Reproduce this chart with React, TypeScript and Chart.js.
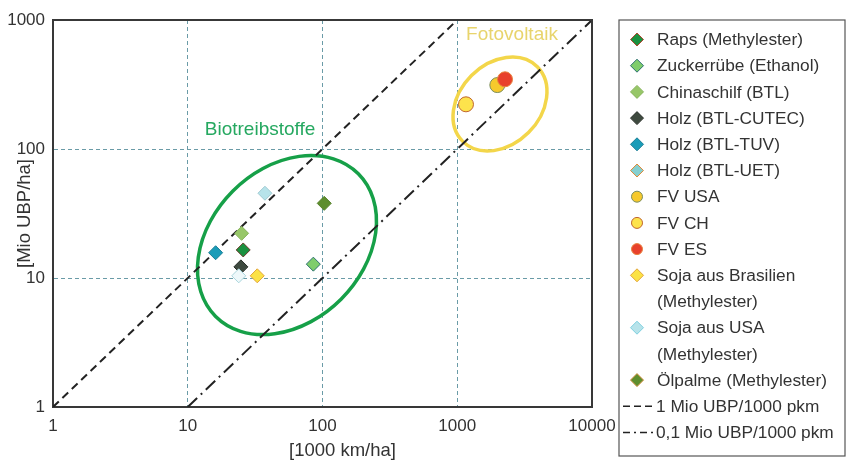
import React, { useEffect, useRef } from "react";
import { Chart, registerables } from "chart.js";

Chart.register(...registerables);

const FONT_FAMILY = "'Liberation Sans', Arial, Helvetica, sans-serif";
const TEXT_COLOR = "#333333";

// ---------------- data ----------------
const seriesLabels = [
  "Raps (Methylester)",
  "Zuckerrübe (Ethanol)",
  "Chinaschilf (BTL)",
  "Holz (BTL-CUTEC)",
  "Holz (BTL-TUV)",
  "Holz (BTL-UET)",
  "FV USA",
  "FV CH",
  "FV ES",
  "Soja aus Brasilien\n(Methylester)",
  "Soja aus USA\n(Methylester)",
  "Ölpalme (Methylester)",
];
// [1000 km/ha]
const seriesX = [25.8, 85.5, 25.1, 24.8, 16.1, 23.9, 1983, 1161, 2262, 32.8, 37.4, 103];
// [Mio UBP/ha]
const seriesY = [16.5, 12.8, 22.2, 12.2, 15.7, 10.4, 313, 222, 347, 10.4, 45.4, 37.9];

const refLineLabels = ["1 Mio UBP/1000 pkm", "0,1 Mio UBP/1000 pkm"];
const refLineX = [
  [1, 1000],
  [10, 10000],
];
const refLineY = [
  [1, 1000],
  [1, 1000],
];

const xTickValues = [1, 10, 100, 1000, 10000];
const xTickLabels = ["1", "10", "100", "1000", "10000"];
const yTickValues = [1, 10, 100, 1000];
const yTickLabels = ["1", "10", "100", "1000"];
const xAxisTitle = "[1000 km/ha]";
const yAxisTitle = "[Mio UBP/ha]";

const groupLabels = ["Biotreibstoffe", "Fotovoltaik"];
const groupCenterX = [54.5, 2076];
const groupCenterY = [18.0, 223];
const groupLabelX = [34.4, 2548];
const groupLabelY = [140, 765];

// ---------------- styles ----------------
const seriesShape = [
  "rectRot", "rectRot", "rectRot", "rectRot", "rectRot", "rectRot",
  "circle", "circle", "circle",
  "rectRot", "rectRot", "rectRot",
];
const seriesRadius = [7, 7, 7, 7, 7, 7, 7.5, 7.5, 7.5, 7, 7, 7];
const seriesFill = [
  "#1b9140", "#7fcd6c", "#97c768", "#3e4a3f", "#1a9cb8", "#eef8fa",
  "#f6c92c", "#fde34c", "#e8412c",
  "#fbe245", "#b7e3ea", "#5e8e2e",
];
const seriesBorder = [
  "#6b3a2a", "#2b6f70", "#86b25a", "#2a2f2a", "#1a7e95", "#a9d5dc",
  "#7b8d5c", "#c0652c", "#e8823e",
  "#e2a43a", "#9fcad2", "#55802a",
];
const legendFill = [
  "#1b9140", "#7fcd6c", "#97c768", "#3e4a3f", "#1a9cb8", "#86cfcf",
  "#f6c92c", "#fde34c", "#e8412c",
  "#fbe245", "#b7e3ea", "#5e8e2e",
];
const legendBorder = [
  "#b0442e", "#2b6f70", "#86b25a", "#2a2f2a", "#1a7e95", "#e08a3a",
  "#7b8d5c", "#c0652c", "#e8823e",
  "#e2a43a", "#7fd0df", "#d08a3a",
];
const seriesOrder = [10, 10, 10, 10, 10, 9, 10, 10, 9, 10, 10, 10];
const refLineDash = [
  [8, 5],
  [13, 5, 2, 5],
];
const refLegendDash = [
  [7, 4],
  [7, 4, 2, 4],
];
const groupRadii = [
  [0.765, 0.58],
  [0.40, 0.306],
];
const groupColors = ["#16a048", "#f3d64a"];
const groupTextColors = ["#25a860", "#e8d46c"];

const chartFramePlugin = {
  id: "chartFrame",
  beforeDatasetsDraw(chart: any) {
    const { ctx, chartArea } = chart;
    const xs = chart.scales.x;
    const ys = chart.scales.y;
    const decX = xs.getPixelForValue(10) - xs.getPixelForValue(1);
    const decY = ys.getPixelForValue(1) - ys.getPixelForValue(10);
    const dec = (decX + decY) / 2;
    ctx.save();
    ctx.beginPath();
    ctx.rect(chartArea.left, chartArea.top, chartArea.right - chartArea.left, chartArea.bottom - chartArea.top);
    ctx.clip();
    groupLabels.forEach((label, i) => {
      const cx = xs.getPixelForValue(groupCenterX[i]);
      const cy = ys.getPixelForValue(groupCenterY[i]);
      ctx.beginPath();
      ctx.ellipse(cx, cy, groupRadii[i][0] * dec, groupRadii[i][1] * dec, -Math.PI / 4, 0, Math.PI * 2);
      ctx.strokeStyle = groupColors[i];
      ctx.lineWidth = 3.5;
      ctx.stroke();
      ctx.font = `19px ${FONT_FAMILY}`;
      ctx.fillStyle = groupTextColors[i];
      ctx.textAlign = "center";
      ctx.textBaseline = "middle";
      ctx.fillText(label, xs.getPixelForValue(groupLabelX[i]), ys.getPixelForValue(groupLabelY[i]));
    });
    ctx.restore();
  },
  afterDraw(chart: any) {
    const { ctx, chartArea } = chart;
    ctx.save();
    // top and right frame
    ctx.strokeStyle = "#383838";
    ctx.lineWidth = 2;
    ctx.beginPath();
    ctx.moveTo(chartArea.left, chartArea.top);
    ctx.lineTo(chartArea.right, chartArea.top);
    ctx.lineTo(chartArea.right, chartArea.bottom);
    ctx.stroke();

    // x axis title
    ctx.font = `18.5px ${FONT_FAMILY}`;
    ctx.fillStyle = TEXT_COLOR;
    ctx.textAlign = "center";
    ctx.textBaseline = "middle";
    ctx.fillText(xAxisTitle, (chartArea.left + chartArea.right) / 2 + 20, chart.height - 11);

    // legend
    const boxLeft = chartArea.right + 27;
    const boxTop = chartArea.top;
    const boxRight = chart.width - 1;
    const boxBottom = chart.height - 6;
    ctx.strokeStyle = "#555555";
    ctx.lineWidth = 1.2;
    ctx.strokeRect(boxLeft, boxTop, boxRight - boxLeft, boxBottom - boxTop);

    const rowH = 26.2;
    let rowY = boxTop + 19.5;
    const markerX = boxLeft + 18;
    const textX = boxLeft + 38;
    chart.data.datasets.forEach((ds: any, i: number) => {
      const lines = String(ds.label).split("\n");
      ctx.save();
      if (ds.type === "line") {
        const li = i - seriesLabels.length;
        ctx.setLineDash(refLegendDash[li]);
        ctx.strokeStyle = "#222222";
        ctx.lineWidth = 1.6;
        ctx.beginPath();
        ctx.moveTo(boxLeft + 4, rowY);
        ctx.lineTo(boxLeft + 34, rowY);
        ctx.stroke();
      } else {
        ctx.fillStyle = legendFill[i];
        ctx.strokeStyle = legendBorder[i];
        ctx.lineWidth = 1;
        ctx.beginPath();
        if (seriesShape[i] === "circle") {
          ctx.arc(markerX, rowY, 5.5, 0, Math.PI * 2);
        } else {
          const r = 6.5;
          ctx.moveTo(markerX - r, rowY);
          ctx.lineTo(markerX, rowY - r);
          ctx.lineTo(markerX + r, rowY);
          ctx.lineTo(markerX, rowY + r);
          ctx.closePath();
        }
        ctx.fill();
        ctx.stroke();
      }
      ctx.restore();
      ctx.font = `17.3px ${FONT_FAMILY}`;
      ctx.fillStyle = TEXT_COLOR;
      ctx.textAlign = "left";
      ctx.textBaseline = "middle";
      const tx = ds.type === "line" ? boxLeft + 37 : textX;
      lines.forEach((ln) => {
        ctx.fillText(ln, tx, rowY + 1);
        rowY += rowH;
      });
    });
    ctx.restore();
  },
};

export default function App() {
  const canvasRef = useRef<HTMLCanvasElement | null>(null);

  useEffect(() => {
    if (!canvasRef.current) return;
    const pointDatasets = seriesLabels.map((label, i) => ({
      type: "scatter" as const,
      label,
      data: [{ x: seriesX[i], y: seriesY[i] }],
      pointStyle: seriesShape[i],
      pointRadius: seriesRadius[i],
      pointBackgroundColor: seriesFill[i],
      pointBorderColor: seriesBorder[i],
      pointBorderWidth: 1,
      backgroundColor: seriesFill[i],
      borderColor: seriesBorder[i],
      order: seriesOrder[i],
    }));
    const lineDatasets = refLineLabels.map((label, i) => ({
      type: "line" as const,
      label,
      data: refLineX[i].map((x, j) => ({ x, y: refLineY[i][j] })),
      borderColor: "#222222",
      borderWidth: 2,
      borderDash: refLineDash[i],
      pointRadius: 0,
      fill: false,
      tension: 0,
      order: 20,
    }));

    const font = { family: FONT_FAMILY, size: 17 };
    const chart = new Chart(canvasRef.current, {
      type: "scatter",
      data: { datasets: [...pointDatasets, ...lineDatasets] as any },
      options: {
        responsive: false,
        animation: false,
        events: [],
        layout: { padding: { left: 0, top: 20, right: 254, bottom: 0 } },
        plugins: {
          legend: { display: false },
          tooltip: { enabled: false },
        },
        scales: {
          x: {
            type: "logarithmic",
            min: 1,
            max: 10000,
            afterBuildTicks: (s: any) => {
              s.ticks = xTickValues.map((v) => ({ value: v }));
            },
            afterFit: (s: any) => {
              s.height = 55;
            },
            ticks: {
              autoSkip: false,
              maxRotation: 0,
              padding: 9,
              font,
              color: TEXT_COLOR,
              callback: (v: any) => {
                const k = xTickValues.indexOf(Number(v));
                return k >= 0 ? xTickLabels[k] : "";
              },
            },
            grid: { color: "#6a9ba7", lineWidth: 1, drawTicks: false },
            border: { display: true, color: "#383838", width: 2, dash: [4, 3] },
            title: { display: false },
          },
          y: {
            type: "logarithmic",
            min: 1,
            max: 1000,
            afterBuildTicks: (s: any) => {
              s.ticks = yTickValues.map((v) => ({ value: v }));
            },
            afterFit: (s: any) => {
              s.width = 53;
            },
            ticks: {
              autoSkip: false,
              padding: 8,
              font,
              color: TEXT_COLOR,
              callback: (v: any) => {
                const k = yTickValues.indexOf(Number(v));
                return k >= 0 ? yTickLabels[k] : "";
              },
            },
            grid: { color: "#6a9ba7", lineWidth: 1, drawTicks: false },
            border: { display: true, color: "#383838", width: 2, dash: [4, 3] },
            title: {
              display: true,
              text: yAxisTitle,
              font: { family: FONT_FAMILY, size: 18.5 },
              color: TEXT_COLOR,
              padding: { top: 14, bottom: 0 },
            },
          },
        },
      } as any,
      plugins: [chartFramePlugin],
    });
    return () => chart.destroy();
  }, []);

  return (
    <div style={{ position: "absolute", left: 0, top: 0, width: 846, height: 462, background: "#ffffff" }}>
      <canvas ref={canvasRef} width={846} height={462} style={{ width: 846, height: 462, display: "block" }} />
    </div>
  );
}
